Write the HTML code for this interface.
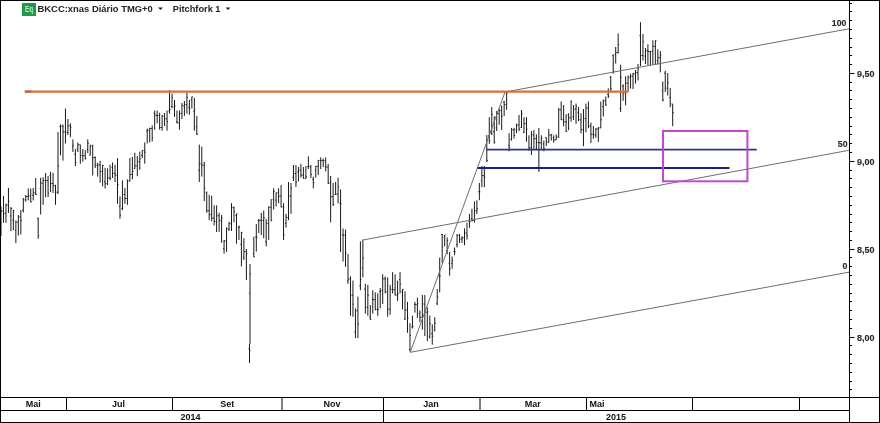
<!DOCTYPE html>
<html><head><meta charset="utf-8"><title>BKCC chart</title>
<style>html,body{margin:0;padding:0;background:#fff;width:880px;height:423px;overflow:hidden}svg{display:block}</style>
</head><body>
<svg width="880" height="423" viewBox="0 0 880 423"><path d="M1.00 206.5V236.0M3.48 196.0V222.8M5.96 203.6V222.8M8.44 188.0V213.0M10.91 207.0V231.3M13.39 210.0V230.2M15.87 220.5V243.0M18.35 215.0V235.5M20.83 210.0V234.5M23.31 198.0V212.5M25.79 195.0V201.7M28.26 188.5V200.4M30.74 188.5V202.5M33.22 188.0V200.4M35.70 178.0V195.0M38.18 217.6V238.8M40.66 177.8V214.5M43.14 177.2V204.8M45.61 173.0V197.2M48.09 176.0V197.0M50.57 171.7V192.0M53.05 172.8V193.0M55.53 184.8V204.8M58.01 132.0V194.0M60.49 124.5V155.3M62.97 124.5V160.6M65.44 108.5V143.6M67.92 119.0V135.0M70.40 123.4V137.2M72.88 139.4V152.0M75.36 149.0V166.0M77.84 142.5V152.0M80.32 144.7V163.8M82.79 149.0V161.7M85.27 150.0V159.6M87.75 139.4V153.0M90.23 144.7V155.3M92.71 144.7V175.5M95.19 156.4V168.0M97.67 162.8V176.6M100.14 160.8V182.7M102.62 164.7V186.3M105.10 167.8V188.6M107.58 168.3V185.0M110.06 164.7V180.2M112.54 162.5V178.0M115.02 164.7V182.2M117.49 158.2V203.8M119.97 196.4V218.7M122.45 180.4V210.2M124.93 187.9V203.8M127.41 179.4V204.9M129.89 158.0V181.5M132.37 157.0V179.4M134.84 152.8V168.7M137.32 156.0V176.2M139.80 151.7V169.8M142.28 150.3V158.0M144.76 142.4V163.7M147.24 128.6V143.5M149.72 127.6V142.4M152.19 125.4V141.4M154.67 110.5V129.7M157.15 110.5V123.3M159.63 112.7V129.7M162.11 114.8V130.7M164.59 113.0V126.0M167.07 110.5V130.7M169.54 90.3V113.7M172.02 93.5V108.4M174.50 99.9V116.9M176.98 110.5V123.3M179.46 110.5V129.7M181.94 103.0V119.0M184.42 101.0V115.9M186.90 92.4V113.7M189.37 99.9V114.8M191.85 96.7V108.4M194.33 97.8V130.7M196.81 115.9V135.0M199.29 144.5V182.0M201.77 146.7V176.6M204.25 161.7V201.0M206.72 191.5V212.8M209.20 194.7V220.2M211.68 195.7V221.3M214.16 205.3V225.5M216.64 205.3V232.0M219.12 212.8V231.8M221.60 215.0V242.8M224.07 240.0V253.7M226.55 227.3V251.9M229.03 221.8V231.0M231.51 203.2V230.9M233.99 206.4V222.3M236.47 213.8V243.7M238.95 225.5V240.0M241.42 231.8V266.4M243.90 238.2V260.0M246.38 249.0V280.0M249.50 344.0V363.0M250.00 264.0V344.0M253.82 236.8V257.0M256.30 224.0V251.6M258.77 219.0V233.0M261.25 212.8V235.0M263.73 210.6V238.2M266.21 219.0V246.4M268.69 206.4V240.0M271.17 199.0V221.3M273.65 188.3V209.6M276.12 192.5V206.4M278.60 188.3V203.2M281.08 185.0V207.4M283.56 203.2V240.0M286.04 213.8V227.7M288.52 182.0V220.2M291.00 183.0V213.8M293.47 165.0V181.0M295.95 165.0V187.0M298.43 167.0V181.5M300.91 163.8V177.7M303.39 167.0V178.7M305.87 166.0V178.7M308.35 156.4V169.0M310.83 165.0V178.0M313.30 176.6V188.3M315.78 166.0V177.7M318.26 160.0V175.0M320.74 157.4V169.0M323.22 158.5V167.0M325.70 157.4V171.3M328.18 164.0V184.0M330.65 176.0V222.3M333.13 183.0V206.0M335.61 182.0V194.7M338.09 177.7V203.2M340.57 189.4V252.0M343.05 228.5V261.5M345.53 229.6V266.8M348.00 254.0V283.8M350.48 276.4V315.7M352.96 280.6V316.8M355.44 308.3V338.1M357.92 296.6V338.1M360.40 241.3V290.2M362.88 240.2V277.4M365.35 283.8V313.6M367.83 284.9V315.7M370.31 305.0V320.0M372.79 290.2V313.6M375.27 292.3V310.4M377.75 293.4V315.7M380.23 288.0V308.3M382.70 274.3V304.0M385.18 276.4V293.4M387.66 277.4V316.8M390.14 284.9V314.7M392.62 272.1V293.4M395.10 274.3V295.5M397.58 280.6V300.9M400.05 272.1V293.4M402.53 289.1V309.4M405.01 291.3V320.0M407.49 301.9V332.8M409.97 323.2V351.5M412.45 315.7V328.5M414.93 301.9V312.6M417.40 297.7V317.9M419.88 310.4V322.1M422.36 295.0V329.6M424.84 295.0V336.0M427.32 307.5V341.2M429.80 315.5V338.5M432.28 324.3V344.7M434.75 317.2V331.4M437.23 289.0V305.0M439.71 257.6V292.4M442.19 234.0V263.2M444.67 235.0V246.3M447.15 237.4V254.2M449.63 252.0V275.6M452.11 256.5V268.8M454.58 247.5V255.3M457.06 234.0V247.5M459.54 234.0V243.0M462.02 236.2V243.0M464.50 228.4V245.2M466.98 222.6V239.6M469.46 214.0V227.9M471.93 208.7V221.5M474.41 201.3V222.6M476.89 200.2V214.0M479.37 183.0V200.2M481.85 166.0V187.2M484.33 166.0V187.2M486.81 135.1V162.0M489.28 117.2V143.8M491.76 107.0V135.0M494.24 116.2V143.8M496.72 110.9V131.0M499.20 108.7V124.7M501.68 105.5V130.0M504.16 101.0V116.0M506.63 91.7V109.8M509.11 133.2V151.3M511.59 127.9V140.6M514.07 127.9V138.5M516.55 123.6V133.2M519.03 115.0V131.0M521.51 110.0V127.9M523.98 117.2V133.2M526.46 117.2V141.7M528.94 135.3V150.2M531.42 131.0V155.0M533.90 130.0V150.2M536.38 134.3V150.2M538.86 127.9V172.0M541.33 135.3V150.2M543.81 140.6V151.3M546.29 137.4V146.0M548.77 128.9V142.8M551.25 134.3V140.6M553.73 135.3V142.8M556.21 134.3V140.0M558.69 108.0V137.7M561.16 101.4V120.0M563.64 105.0V126.4M566.12 114.3V132.0M568.60 113.2V130.2M571.08 100.4V121.7M573.56 105.0V120.0M576.04 103.6V123.8M578.51 107.0V121.0M580.99 113.2V133.4M583.47 109.0V146.2M585.95 103.6V132.3M588.43 101.5V128.1M590.91 122.6V143.0M593.39 126.0V138.7M595.86 128.1V137.7M598.34 127.0V141.9M600.82 101.5V128.1M603.30 99.5V116.4M605.78 96.5V105.7M608.26 88.4V98.0M610.74 76.0V91.0M613.21 54.4V73.6M615.69 47.0V63.5M618.17 33.4V53.5M620.65 64.7V112.0M623.13 84.2V100.8M625.61 76.3V105.4M628.09 75.5V91.0M630.56 73.7V88.5M633.04 73.0V89.0M635.52 70.0V83.6M638.00 64.0V80.5M640.48 22.2V66.0M642.96 34.0V60.5M645.44 48.0V64.0M647.91 44.3V65.0M650.39 51.0V65.1M652.87 40.3V64.6M655.35 40.3V64.3M657.83 49.2V64.6M660.31 51.0V72.4M662.79 81.5V101.4M665.26 70.8V92.0M667.74 73.0V95.6M670.22 88.0V107.2M672.70 104.0V126.2" stroke="#1a1a1a" stroke-width="1" fill="none"/>
<path d="M0.00 216.1H1.00M1.00 211.0H2.00M2.48 211.0H3.48M3.48 213.4H4.48M4.96 213.4H5.96M5.96 205.0H6.96M7.44 205.0H8.44M8.44 201.4H9.44M9.91 215.9H10.91M10.91 208.4H11.91M12.39 220.3H13.39M13.39 210.8H14.39M14.87 230.3H15.87M15.87 222.1H16.87M17.35 222.1H18.35M18.35 216.9H19.35M19.83 216.9H20.83M20.83 220.4H21.83M22.31 210.0H23.31M23.31 199.8H24.31M24.79 199.8H25.79M25.79 196.5H26.79M27.26 196.5H28.26M28.26 196.0H29.26M29.74 196.0H30.74M30.74 201.8H31.74M32.22 195.2H33.22M33.22 192.9H34.22M34.70 192.9H35.70M35.70 194.6H36.70M37.18 218.6H38.18M38.18 235.8H39.18M39.66 188.4H40.66M40.66 183.1H41.66M42.14 183.1H43.14M43.14 180.5H44.14M44.61 180.5H45.61M45.61 180.5H46.61M47.09 180.5H48.09M48.09 193.1H49.09M49.57 175.4H50.57M50.57 183.5H51.57M52.05 183.5H53.05M53.05 185.7H54.05M54.53 185.7H55.53M55.53 192.2H56.53M57.01 192.2H58.01M58.01 166.0H59.01M59.49 126.4H60.49M60.49 126.3H61.49M61.97 126.3H62.97M62.97 131.9H63.97M64.44 131.9H65.44M65.44 132.4H66.44M66.92 132.4H67.92M67.92 125.8H68.92M69.40 125.8H70.40M70.40 127.7H71.40M71.88 146.8H72.88M72.88 145.1H73.88M74.36 154.1H75.36M75.36 162.5H76.36M76.84 149.1H77.84M77.84 144.8H78.84M79.32 144.8H80.32M80.32 155.7H81.32M81.79 155.7H82.79M82.79 155.7H83.79M84.27 155.7H85.27M85.27 158.4H86.27M86.75 149.3H87.75M87.75 143.3H88.75M89.23 155.1H90.23M90.23 146.0H91.23M91.71 146.0H92.71M92.71 157.6H93.71M94.19 157.6H95.19M95.19 165.2H96.19M96.67 165.2H97.67M97.67 164.9H98.67M99.14 164.9H100.14M100.14 171.5H101.14M101.62 171.5H102.62M102.62 165.5H103.62M104.10 181.7H105.10M105.10 183.7H106.10M106.58 183.7H107.58M107.58 177.9H108.58M109.06 177.9H110.06M110.06 178.3H111.06M111.54 167.4H112.54M112.54 173.3H113.54M114.02 173.3H115.02M115.02 175.1H116.02M116.49 175.1H117.49M117.49 184.6H118.49M118.97 206.6H119.97M119.97 215.1H120.97M121.45 208.6H122.45M122.45 194.5H123.45M123.93 194.5H124.93M124.93 198.5H125.93M126.41 198.5H127.41M127.41 180.9H128.41M128.89 180.9H129.89M129.89 174.5H130.89M131.37 174.5H132.37M132.37 171.5H133.37M133.84 168.6H134.84M134.84 165.9H135.84M136.32 165.9H137.32M137.32 161.7H138.32M138.80 161.7H139.80M139.80 158.7H140.80M141.28 155.4H142.28M142.28 150.5H143.28M143.76 150.5H144.76M144.76 152.2H145.76M146.24 131.1H147.24M147.24 130.3H148.24M148.72 130.3H149.72M149.72 128.5H150.72M151.19 128.5H152.19M152.19 137.7H153.19M153.67 113.0H154.67M154.67 115.3H155.67M156.15 115.3H157.15M157.15 115.5H158.15M158.63 115.5H159.63M159.63 127.5H160.63M161.11 127.5H162.11M162.11 116.1H163.11M163.59 116.1H164.59M164.59 118.8H165.59M166.07 118.8H167.07M167.07 121.6H168.07M168.54 111.0H169.54M169.54 109.5H170.54M171.02 106.4H172.02M172.02 97.6H173.02M173.50 107.0H174.50M174.50 106.0H175.50M175.98 121.8H176.98M176.98 122.8H177.98M178.46 122.8H179.46M179.46 113.4H180.46M180.94 113.4H181.94M181.94 105.8H182.94M183.42 105.8H184.42M184.42 104.5H185.42M185.90 104.5H186.90M186.90 97.4H187.90M188.37 107.1H189.37M189.37 108.7H190.37M190.85 99.8H191.85M191.85 96.7H192.85M193.33 111.6H194.33M194.33 109.9H195.33M195.81 126.7H196.81M196.81 134.1H197.81M198.29 170.4H199.29M199.29 163.8H200.29M200.77 163.8H201.77M201.77 165.2H202.77M203.25 165.2H204.25M204.25 188.3H205.25M205.72 192.7H206.72M206.72 210.7H207.72M208.20 210.7H209.20M209.20 214.6H210.20M210.68 214.6H211.68M211.68 218.1H212.68M213.16 218.1H214.16M214.16 221.4H215.16M215.64 221.4H216.64M216.64 215.8H217.64M218.12 215.8H219.12M219.12 220.4H220.12M220.60 220.4H221.60M221.60 217.9H222.60M223.07 248.7H224.07M224.07 240.9H225.07M225.55 240.9H226.55M226.55 229.0H227.55M228.03 229.0H229.03M229.03 223.7H230.03M230.51 223.7H231.51M231.51 207.7H232.51M232.99 207.7H233.99M233.99 211.8H234.99M235.47 215.4H236.47M236.47 213.8H237.47M237.95 227.7H238.95M238.95 227.0H239.95M240.42 244.4H241.42M241.42 232.7H242.42M242.90 257.3H243.90M243.90 251.6H244.90M245.38 251.6H246.38M246.38 253.6H247.38M248.50 348.8H249.50M249.50 350.6H250.50M249.00 293.1H250.00M250.00 273.8H251.00M252.82 253.9H253.82M253.82 256.9H254.82M255.30 236.9H256.30M256.30 237.4H257.30M257.77 220.2H258.77M258.77 220.4H259.77M260.25 220.4H261.25M261.25 220.4H262.25M262.73 220.4H263.73M263.73 217.9H264.73M265.21 241.7H266.21M266.21 223.4H267.21M267.69 223.4H268.69M268.69 207.2H269.69M270.17 207.2H271.17M271.17 220.2H272.17M272.65 199.6H273.65M273.65 191.4H274.65M275.12 200.1H276.12M276.12 192.9H277.12M277.60 192.9H278.60M278.60 196.2H279.60M280.08 196.2H281.08M281.08 206.9H282.08M282.56 206.9H283.56M283.56 235.0H284.56M285.04 223.5H286.04M286.04 217.4H287.04M287.52 217.4H288.52M288.52 196.0H289.52M290.00 196.0H291.00M291.00 188.1H292.00M292.47 177.4H293.47M293.47 173.5H294.47M294.95 173.5H295.95M295.95 182.1H296.95M297.43 171.8H298.43M298.43 170.2H299.43M299.91 170.2H300.91M300.91 175.1H301.91M302.39 175.1H303.39M303.39 178.5H304.39M304.87 178.5H305.87M305.87 176.8H306.87M307.35 166.6H308.35M308.35 166.7H309.35M309.83 166.7H310.83M310.83 174.6H311.83M312.30 179.3H313.30M313.30 182.7H314.30M314.78 170.2H315.78M315.78 166.3H316.78M317.26 166.3H318.26M318.26 160.4H319.26M319.74 160.4H320.74M320.74 160.6H321.74M322.22 160.6H323.22M323.22 160.7H324.22M324.70 160.7H325.70M325.70 167.0H326.70M327.18 167.0H328.18M328.18 183.1H329.18M329.65 183.1H330.65M330.65 196.7H331.65M332.13 196.7H333.13M333.13 204.6H334.13M334.61 194.5H335.61M335.61 194.1H336.61M337.09 194.1H338.09M338.09 187.0H339.09M339.57 203.2H340.57M340.57 203.6H341.57M342.05 235.0H343.05M343.05 235.2H344.05M344.53 235.2H345.53M345.53 252.8H346.53M347.00 280.8H348.00M348.00 279.0H349.00M349.48 279.0H350.48M350.48 295.2H351.48M351.96 295.2H352.96M352.96 304.2H353.96M354.44 332.1H355.44M355.44 310.8H356.44M356.92 310.8H357.92M357.92 324.0H358.92M359.40 285.8H360.40M360.40 279.6H361.40M361.88 268.1H362.88M362.88 258.0H363.88M364.35 289.1H365.35M365.35 307.3H366.35M366.83 307.3H367.83M367.83 295.1H368.83M369.31 317.0H370.31M370.31 319.6H371.31M371.79 299.5H372.79M372.79 299.6H373.79M374.27 299.6H375.27M375.27 309.4H376.27M376.75 309.4H377.75M377.75 309.6H378.75M379.23 291.5H380.23M380.23 290.6H381.23M381.70 290.6H382.70M382.70 278.8H383.70M384.18 278.8H385.18M385.18 291.8H386.18M386.66 291.8H387.66M387.66 309.2H388.66M389.14 309.2H390.14M390.14 289.3H391.14M391.62 289.3H392.62M392.62 289.7H393.62M394.10 289.7H395.10M395.10 295.1H396.10M396.58 295.1H397.58M397.58 293.9H398.58M399.05 279.6H400.05M400.05 283.8H401.05M401.53 291.8H402.53M402.53 289.4H403.53M404.01 319.2H405.01M405.01 309.9H406.01M406.49 309.9H407.49M407.49 318.2H408.49M408.97 349.6H409.97M409.97 335.5H410.97M411.45 326.9H412.45M412.45 326.3H413.45M413.93 304.2H414.93M414.93 304.6H415.93M416.40 304.6H417.40M417.40 303.6H418.40M418.88 313.2H419.88M419.88 317.3H420.88M421.36 317.3H422.36M422.36 304.0H423.36M423.84 304.0H424.84M424.84 312.2H425.84M426.32 312.2H427.32M427.32 311.9H428.32M428.80 336.4H429.80M429.80 323.6H430.80M431.28 333.6H432.28M432.28 336.2H433.28M433.75 330.0H434.75M434.75 323.2H435.75M436.23 303.7H437.23M437.23 297.0H438.23M438.71 276.1H439.71M439.71 275.8H440.71M441.19 234.5H442.19M442.19 246.9H443.19M443.67 237.1H444.67M444.67 235.0H445.67M446.15 250.8H447.15M447.15 240.3H448.15M448.63 263.2H449.63M449.63 269.1H450.63M451.11 263.3H452.11M452.11 260.5H453.11M453.58 251.5H454.58M454.58 251.8H455.58M456.06 244.6H457.06M457.06 235.4H458.06M458.54 235.4H459.54M459.54 239.0H460.54M461.02 239.0H462.02M462.02 237.9H463.02M463.50 237.9H464.50M464.50 233.1H465.50M465.98 233.1H466.98M466.98 235.7H467.98M468.46 221.1H469.46M469.46 221.8H470.46M470.93 218.4H471.93M471.93 220.4H472.93M473.41 220.4H474.41M474.41 210.7H475.41M475.89 210.7H476.89M476.89 208.7H477.89M478.37 191.7H479.37M479.37 191.8H480.37M480.85 180.7H481.85M481.85 175.6H482.85M483.33 175.6H484.33M484.33 177.3H485.33M485.81 148.0H486.81M486.81 160.4H487.81M488.28 135.8H489.28M489.28 140.5H490.28M490.76 133.4H491.76M491.76 114.3H492.76M493.24 131.6H494.24M494.24 142.2H495.24M495.72 127.8H496.72M496.72 113.7H497.72M498.20 113.7H499.20M499.20 110.6H500.20M500.68 110.6H501.68M501.68 116.3H502.68M503.16 102.1H504.16M504.16 104.6H505.16M505.63 104.6H506.63M506.63 93.0H507.63M508.11 145.3H509.11M509.11 147.4H510.11M510.59 139.3H511.59M511.59 129.9H512.59M513.07 129.9H514.07M514.07 135.5H515.07M515.55 129.9H516.55M516.55 125.0H517.55M518.03 125.0H519.03M519.03 129.1H520.03M520.51 127.3H521.51M521.51 113.9H522.51M522.98 132.4H523.98M523.98 123.6H524.98M525.46 123.6H526.46M526.46 129.1H527.46M527.94 150.0H528.94M528.94 147.7H529.94M530.42 147.7H531.42M531.42 134.9H532.42M532.90 134.9H533.90M533.90 138.7H534.90M535.38 138.7H536.38M536.38 142.5H537.38M537.86 142.5H538.86M538.86 142.9H539.86M540.33 142.9H541.33M541.33 138.2H542.33M542.81 144.0H543.81M543.81 148.3H544.81M545.29 137.6H546.29M546.29 142.2H547.29M547.77 142.2H548.77M548.77 135.0H549.77M550.25 135.0H551.25M551.25 134.4H552.25M552.73 137.8H553.73M553.73 140.0H554.73M555.21 140.0H556.21M556.21 137.2H557.21M557.69 137.2H558.69M558.69 109.9H559.69M560.16 109.9H561.16M561.16 119.7H562.16M562.64 119.7H563.64M563.64 121.9H564.64M565.12 121.9H566.12M566.12 131.5H567.12M567.60 115.0H568.60M568.60 117.7H569.60M570.08 117.7H571.08M571.08 101.2H572.08M572.56 116.7H573.56M573.56 109.1H574.56M575.04 109.1H576.04M576.04 106.2H577.04M577.51 112.9H578.51M578.51 119.8H579.51M579.99 119.8H580.99M580.99 129.7H581.99M582.47 129.7H583.47M583.47 118.6H584.47M584.95 118.6H585.95M585.95 107.9H586.95M587.43 107.9H588.43M588.43 125.9H589.43M589.91 125.9H590.91M590.91 134.2H591.91M592.39 134.2H593.39M593.39 134.9H594.39M594.86 134.9H595.86M595.86 129.0H596.86M597.34 129.0H598.34M598.34 127.9H599.34M599.82 127.9H600.82M600.82 119.8H601.82M602.30 106.7H603.30M603.30 100.7H604.30M604.78 100.7H605.78M605.78 105.1H606.78M607.26 94.5H608.26M608.26 96.1H609.26M609.74 77.3H610.74M610.74 88.8H611.74M612.21 55.7H613.21M613.21 71.0H614.21M614.69 54.5H615.69M615.69 52.6H616.69M617.17 52.6H618.17M618.17 44.5H619.17M619.65 108.5H620.65M620.65 77.4H621.65M622.13 86.3H623.13M623.13 92.9H624.13M624.61 92.9H625.61M625.61 83.2H626.61M627.09 83.2H628.09M628.09 77.2H629.09M629.56 77.2H630.56M630.56 76.1H631.56M632.04 76.1H633.04M633.04 73.8H634.04M634.52 73.8H635.52M635.52 72.7H636.52M637.00 72.7H638.00M638.00 69.1H639.00M639.48 35.6H640.48M640.48 55.5H641.48M641.96 55.5H642.96M642.96 41.7H643.96M644.44 56.0H645.44M645.44 50.8H646.44M646.91 50.8H647.91M647.91 51.5H648.91M649.39 51.5H650.39M650.39 51.3H651.39M651.87 51.3H652.87M652.87 46.4H653.87M654.35 46.4H655.35M655.35 40.7H656.35M656.83 60.5H657.83M657.83 57.7H658.83M659.31 57.7H660.31M660.31 55.1H661.31M661.79 90.9H662.79M662.79 100.1H663.79M664.26 73.1H665.26M665.26 88.2H666.26M666.74 88.2H667.74M667.74 82.8H668.74M669.22 97.5H670.22M670.22 104.0H671.22M671.70 104.0H672.70M672.70 112.7H673.70" stroke="#1a1a1a" stroke-width="1" fill="none"/>
<g stroke="#6e6e6e" stroke-width="1" fill="none"><line x1="505" y1="92" x2="849" y2="28.8"/><line x1="362" y1="240.2" x2="849" y2="150.3"/><line x1="410.2" y1="352.3" x2="849" y2="272.2"/><line x1="410.2" y1="352.3" x2="505" y2="92"/></g>
<line x1="24.8" y1="91.6" x2="628.7" y2="91.6" stroke="#d6733a" stroke-width="2.2"/>
<line x1="24.8" y1="91.6" x2="31.3" y2="91.6" stroke="#bc5f48" stroke-width="2.2"/>
<line x1="486.6" y1="149.7" x2="756.8" y2="149.7" stroke="#2e2ea2" stroke-width="1.8"/>
<line x1="477.5" y1="168" x2="729.5" y2="168" stroke="#1c1c8a" stroke-width="2"/>
<rect x="663" y="131" width="84.4" height="50.3" fill="none" stroke="#c448d4" stroke-width="2"/>
<text x="831.8" y="25.8" font-family="'Liberation Sans', Arial, sans-serif" font-size="9.8" font-weight="bold" fill="#2a2a2a" stroke="#2a2a2a" stroke-width="0.15" textLength="14.5" lengthAdjust="spacingAndGlyphs">100</text>
<text x="837.8" y="147.2" font-family="'Liberation Sans', Arial, sans-serif" font-size="9.8" font-weight="bold" fill="#2a2a2a" stroke="#2a2a2a" stroke-width="0.15" textLength="9.7" lengthAdjust="spacingAndGlyphs">50</text>
<text x="842.6" y="269" font-family="'Liberation Sans', Arial, sans-serif" font-size="9.8" font-weight="bold" fill="#2a2a2a" stroke="#2a2a2a" stroke-width="0.15" textLength="4.9" lengthAdjust="spacingAndGlyphs">0</text>
<path d="M0 0.5H880M0.5 0V423M879.5 0V423M0 422.5H880M849.5 0V423M0 397.5H880M0 410.5H849.5M66.5 397V410.5M172.5 397V410.5M282.0 397V410.5M383.5 397V410.5M480.0 397V410.5M586.5 397V410.5M692.5 397V410.5M799.5 397V410.5M383.5 410V422.5M849.5 3.50H852.0M849.5 11.50H852.0M849.5 20.50H852.0M849.5 29.50H852.0M849.5 38.50H852.0M849.5 47.50H852.0M849.5 55.50H852.0M849.5 64.50H852.0M849.5 73.50H854.5M849.5 82.50H852.0M849.5 90.50H852.0M849.5 99.50H852.0M849.5 108.50H852.0M849.5 117.50H852.0M849.5 126.50H852.0M849.5 134.50H852.0M849.5 143.50H852.0M849.5 152.50H852.0M849.5 161.50H854.5M849.5 170.50H852.0M849.5 178.50H852.0M849.5 187.50H852.0M849.5 196.50H852.0M849.5 205.50H852.0M849.5 214.50H852.0M849.5 222.50H852.0M849.5 231.50H852.0M849.5 240.50H852.0M849.5 249.50H854.5M849.5 257.50H852.0M849.5 266.50H852.0M849.5 275.50H852.0M849.5 284.50H852.0M849.5 293.50H852.0M849.5 301.50H852.0M849.5 310.50H852.0M849.5 319.50H852.0M849.5 328.50H852.0M849.5 337.50H854.5M849.5 345.50H852.0M849.5 354.50H852.0M849.5 363.50H852.0M849.5 372.50H852.0M849.5 381.50H852.0M849.5 389.50H852.0" stroke="#000" stroke-width="1" fill="none"/>
<text x="857.1" y="77.0" font-family="'Liberation Sans', Arial, sans-serif" font-size="9.8" font-weight="bold" fill="#2a2a2a" stroke="#2a2a2a" stroke-width="0.15" textLength="17.5" lengthAdjust="spacingAndGlyphs">9,50</text>
<text x="857.1" y="164.9" font-family="'Liberation Sans', Arial, sans-serif" font-size="9.8" font-weight="bold" fill="#2a2a2a" stroke="#2a2a2a" stroke-width="0.15" textLength="17.5" lengthAdjust="spacingAndGlyphs">9,00</text>
<text x="857.1" y="252.8" font-family="'Liberation Sans', Arial, sans-serif" font-size="9.8" font-weight="bold" fill="#2a2a2a" stroke="#2a2a2a" stroke-width="0.15" textLength="17.5" lengthAdjust="spacingAndGlyphs">8,50</text>
<text x="857.1" y="340.7" font-family="'Liberation Sans', Arial, sans-serif" font-size="9.8" font-weight="bold" fill="#2a2a2a" stroke="#2a2a2a" stroke-width="0.15" textLength="17.5" lengthAdjust="spacingAndGlyphs">8,00</text>
<text x="33.2" y="407.3" font-family="'Liberation Sans', Arial, sans-serif" font-size="9" font-weight="bold" fill="#111" text-anchor="middle">Mai</text>
<text x="118.5" y="407.3" font-family="'Liberation Sans', Arial, sans-serif" font-size="9" font-weight="bold" fill="#111" text-anchor="middle">Jul</text>
<text x="227.2" y="407.3" font-family="'Liberation Sans', Arial, sans-serif" font-size="9" font-weight="bold" fill="#111" text-anchor="middle">Set</text>
<text x="332" y="407.3" font-family="'Liberation Sans', Arial, sans-serif" font-size="9" font-weight="bold" fill="#111" text-anchor="middle">Nov</text>
<text x="431" y="407.3" font-family="'Liberation Sans', Arial, sans-serif" font-size="9" font-weight="bold" fill="#111" text-anchor="middle">Jan</text>
<text x="532.8" y="407.3" font-family="'Liberation Sans', Arial, sans-serif" font-size="9" font-weight="bold" fill="#111" text-anchor="middle">Mar</text>
<text x="589.5" y="407.3" font-family="'Liberation Sans', Arial, sans-serif" font-size="9" font-weight="bold" fill="#111">Mai</text>
<text x="190.5" y="420.3" font-family="'Liberation Sans', Arial, sans-serif" font-size="9" font-weight="bold" fill="#111" text-anchor="middle">2014</text>
<text x="616" y="420.3" font-family="'Liberation Sans', Arial, sans-serif" font-size="9" font-weight="bold" fill="#111" text-anchor="middle">2015</text>
<rect x="22" y="3" width="14" height="13" fill="#1f9a4c"/>
<text x="25" y="11.8" font-family="'Liberation Sans', Arial, sans-serif" font-size="9.5" font-weight="bold" fill="#b0f0c0" textLength="8.2" lengthAdjust="spacingAndGlyphs">Eq</text>
<text x="37.5" y="12.1" font-family="'Liberation Sans', Arial, sans-serif" font-size="9.6" font-weight="bold" fill="#222" textLength="115.3" lengthAdjust="spacingAndGlyphs">BKCC:xnas Diário TMG+0</text>
<path d="M158 7.5H163L160.5 10Z" fill="#222"/>
<text x="172.8" y="12.1" font-family="'Liberation Sans', Arial, sans-serif" font-size="9.6" font-weight="bold" fill="#222" textLength="47.7" lengthAdjust="spacingAndGlyphs">Pitchfork 1</text>
<path d="M225.5 7.5H230.5L228 10Z" fill="#222"/></svg>
</body></html>
